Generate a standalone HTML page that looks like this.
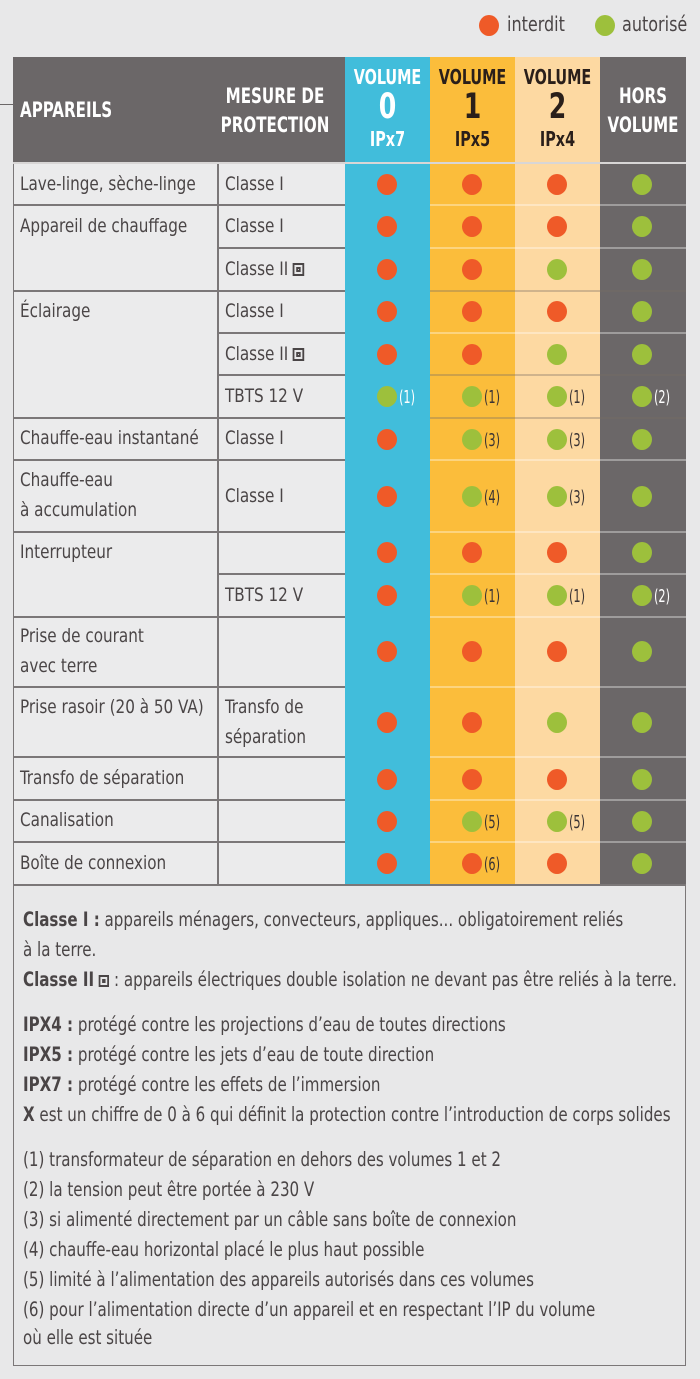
<!DOCTYPE html>
<html><head><meta charset="utf-8"><style>
*{margin:0;padding:0;box-sizing:border-box}
body{width:700px;height:1379px;background:#e8e8e9;position:relative;overflow:hidden;font-family:"Liberation Sans Narrow","DejaVu Sans Condensed","Liberation Sans",sans-serif;color:#4a4546}
.a{position:absolute}
.t{position:absolute;font-size:19px;line-height:30px;white-space:nowrap;transform-origin:0 0;transform:scaleX(.89)}
.h{position:absolute;color:#fff;font-weight:bold;font-size:20px;line-height:29px;text-align:center;transform:scaleX(.8)}
.d{position:absolute;width:20px;height:21px;border-radius:50%}
.o{background:#ef5a28}.g{background:#9dc03c}
.n{position:absolute;font-size:18px;line-height:21px;transform:scaleX(.7);transform-origin:0 0;color:#3a3334}
.ln{position:absolute;height:2px}
.f{position:absolute;left:23px;font-size:19.5px;line-height:30px;white-space:nowrap;transform-origin:0 0;transform:scaleX(.86);color:#4a4546}
.f b{color:#4a4546}
.sq{display:inline-block;width:12px;height:12px;border:2px solid #4a4546;box-shadow:inset 0 0 0 2px #e8e8e9,inset 0 0 0 4px #4a4546;vertical-align:-1px}
</style></head><body>
<div class="d o" style="left:479px;top:15px"></div><div class="t" style="left:507px;top:9px;font-size:20px">interdit</div>
<div class="d g" style="left:595px;top:15px"></div><div class="t" style="left:622px;top:9px;font-size:20px">autorisé</div>
<div class="a" style="left:13px;top:57px;width:673px;height:828px;background:#ebebec;border:1.5px solid #7b7778"></div>
<div class="a" style="left:13px;top:57px;width:332px;height:106px;background:#6b6768"></div>
<div class="a" style="left:345px;top:57px;width:85px;height:828px;background:#41bddb"></div>
<div class="a" style="left:430px;top:57px;width:85px;height:828px;background:#fbbd3b"></div>
<div class="a" style="left:515px;top:57px;width:85px;height:828px;background:#fdd9a2"></div>
<div class="a" style="left:600px;top:57px;width:86px;height:828px;background:#6b6768"></div>
<div class="a" style="left:0;top:104px;width:13px;height:1px;background:#6b6768"></div>
<div class="h" style="left:20px;top:96px;font-size:21px;text-align:left;transform-origin:0 0">APPAREILS</div>
<div class="h" style="left:205px;top:82px;width:140px;font-size:21px">MESURE DE<br>PROTECTION</div>
<div class="h" style="left:340px;top:63px;width:95px;line-height:28px">VOLUME<br><span style="font-size:35px;line-height:32px">0</span><br>IPx7</div>
<div class="h" style="left:425px;top:63px;width:95px;line-height:28px;color:#2a1f1a">VOLUME<br><span style="font-size:35px;line-height:32px">1</span><br>IPx5</div>
<div class="h" style="left:510px;top:63px;width:95px;line-height:28px;color:#2a1f1a">VOLUME<br><span style="font-size:35px;line-height:32px">2</span><br>IPx4</div>
<div class="h" style="left:595px;top:82px;width:96px;font-size:21px">HORS<br>VOLUME</div>
<div class="a" style="left:217px;top:163px;width:1.5px;height:722px;background:#7b7778"></div>
<div class="ln" style="left:13px;top:162px;width:673px;background:#d8d6d6"></div>
<div class="ln" style="left:13px;top:204px;width:332px;background:#7b7778"></div>
<div class="ln" style="left:13px;top:290px;width:332px;background:#7b7778"></div>
<div class="ln" style="left:13px;top:417px;width:332px;background:#7b7778"></div>
<div class="ln" style="left:13px;top:459px;width:332px;background:#7b7778"></div>
<div class="ln" style="left:13px;top:531px;width:332px;background:#7b7778"></div>
<div class="ln" style="left:13px;top:616px;width:332px;background:#7b7778"></div>
<div class="ln" style="left:13px;top:686px;width:332px;background:#7b7778"></div>
<div class="ln" style="left:13px;top:756px;width:332px;background:#7b7778"></div>
<div class="ln" style="left:13px;top:799px;width:332px;background:#7b7778"></div>
<div class="ln" style="left:13px;top:841px;width:332px;background:#7b7778"></div>
<div class="ln" style="left:13px;top:884px;width:673px;background:#7b7778"></div>
<div class="ln" style="left:218px;top:247px;width:127px;background:#7b7778"></div>
<div class="ln" style="left:218px;top:332px;width:127px;background:#7b7778"></div>
<div class="ln" style="left:218px;top:374px;width:127px;background:#7b7778"></div>
<div class="ln" style="left:218px;top:573px;width:127px;background:#7b7778"></div>
<div class="ln" style="left:430px;top:204px;width:256px;background:rgba(255,255,255,.35)"></div>
<div class="ln" style="left:430px;top:247px;width:256px;background:rgba(255,255,255,.35)"></div>
<div class="ln" style="left:430px;top:290px;width:256px;background:rgba(120,110,100,.35)"></div>
<div class="ln" style="left:430px;top:332px;width:256px;background:rgba(255,255,255,.35)"></div>
<div class="ln" style="left:430px;top:374px;width:256px;background:rgba(120,110,100,.35)"></div>
<div class="ln" style="left:430px;top:417px;width:256px;background:rgba(120,110,100,.35)"></div>
<div class="ln" style="left:430px;top:459px;width:256px;background:rgba(255,255,255,.35)"></div>
<div class="ln" style="left:430px;top:531px;width:256px;background:rgba(255,255,255,.35)"></div>
<div class="ln" style="left:430px;top:573px;width:256px;background:rgba(255,255,255,.35)"></div>
<div class="ln" style="left:430px;top:616px;width:256px;background:rgba(255,255,255,.35)"></div>
<div class="ln" style="left:430px;top:686px;width:256px;background:rgba(255,255,255,.35)"></div>
<div class="ln" style="left:430px;top:756px;width:256px;background:rgba(255,255,255,.35)"></div>
<div class="ln" style="left:430px;top:799px;width:256px;background:rgba(255,255,255,.35)"></div>
<div class="ln" style="left:430px;top:841px;width:256px;background:rgba(255,255,255,.35)"></div>
<div class="t" style="left:20px;top:169px">Lave-linge, sèche-linge</div>
<div class="t" style="left:20px;top:211px">Appareil de chauffage</div>
<div class="t" style="left:20px;top:296px">Éclairage</div>
<div class="t" style="left:20px;top:423px">Chauffe-eau instantané</div>
<div class="t" style="left:20px;top:465px">Chauffe-eau<br>à accumulation</div>
<div class="t" style="left:20px;top:537px">Interrupteur</div>
<div class="t" style="left:20px;top:621px">Prise de courant<br>avec terre</div>
<div class="t" style="left:20px;top:692px">Prise rasoir (20 à 50 VA)</div>
<div class="t" style="left:20px;top:763px">Transfo de séparation</div>
<div class="t" style="left:20px;top:805px">Canalisation</div>
<div class="t" style="left:20px;top:848px">Boîte de connexion</div>
<div class="t" style="left:225px;top:169px">Classe I</div>
<div class="t" style="left:225px;top:211px">Classe I</div>
<div class="t" style="left:225px;top:254px">Classe II <span class="sq" style="width:13px;height:13px"></span></div>
<div class="t" style="left:225px;top:296px">Classe I</div>
<div class="t" style="left:225px;top:339px">Classe II <span class="sq" style="width:13px;height:13px"></span></div>
<div class="t" style="left:225px;top:381px">TBTS 12 V</div>
<div class="t" style="left:225px;top:423px">Classe I</div>
<div class="t" style="left:225px;top:481px">Classe I</div>
<div class="t" style="left:225px;top:580px">TBTS 12 V</div>
<div class="t" style="left:225px;top:692px">Transfo de<br>séparation</div>
<div class="d o" style="left:377px;top:174px"></div><div class="d o" style="left:462px;top:174px"></div><div class="d o" style="left:547px;top:174px"></div><div class="d g" style="left:632px;top:174px"></div>
<div class="d o" style="left:377px;top:216px"></div><div class="d o" style="left:462px;top:216px"></div><div class="d o" style="left:547px;top:216px"></div><div class="d g" style="left:632px;top:216px"></div>
<div class="d o" style="left:377px;top:259px"></div><div class="d o" style="left:462px;top:259px"></div><div class="d g" style="left:547px;top:259px"></div><div class="d g" style="left:632px;top:259px"></div>
<div class="d o" style="left:377px;top:301px"></div><div class="d o" style="left:462px;top:301px"></div><div class="d o" style="left:547px;top:301px"></div><div class="d g" style="left:632px;top:301px"></div>
<div class="d o" style="left:377px;top:344px"></div><div class="d o" style="left:462px;top:344px"></div><div class="d g" style="left:547px;top:344px"></div><div class="d g" style="left:632px;top:344px"></div>
<div class="d g" style="left:377px;top:386px"></div><div class="n" style="left:399px;top:387px;color:#fff">(1)</div>
<div class="d g" style="left:462px;top:386px"></div><div class="n" style="left:484px;top:387px">(1)</div>
<div class="d g" style="left:547px;top:386px"></div><div class="n" style="left:569px;top:387px">(1)</div>
<div class="d g" style="left:632px;top:386px"></div><div class="n" style="left:654px;top:387px;color:#fff">(2)</div>
<div class="d o" style="left:377px;top:429px"></div>
<div class="d g" style="left:462px;top:429px"></div><div class="n" style="left:484px;top:430px">(3)</div>
<div class="d g" style="left:547px;top:429px"></div><div class="n" style="left:569px;top:430px">(3)</div>
<div class="d g" style="left:632px;top:429px"></div>
<div class="d o" style="left:377px;top:486px"></div>
<div class="d g" style="left:462px;top:486px"></div><div class="n" style="left:484px;top:487px">(4)</div>
<div class="d g" style="left:547px;top:486px"></div><div class="n" style="left:569px;top:487px">(3)</div>
<div class="d g" style="left:632px;top:486px"></div>
<div class="d o" style="left:377px;top:542px"></div><div class="d o" style="left:462px;top:542px"></div><div class="d o" style="left:547px;top:542px"></div><div class="d g" style="left:632px;top:542px"></div>
<div class="d o" style="left:377px;top:585px"></div>
<div class="d g" style="left:462px;top:585px"></div><div class="n" style="left:484px;top:586px">(1)</div>
<div class="d g" style="left:547px;top:585px"></div><div class="n" style="left:569px;top:586px">(1)</div>
<div class="d g" style="left:632px;top:585px"></div><div class="n" style="left:654px;top:586px;color:#fff">(2)</div>
<div class="d o" style="left:377px;top:641px"></div><div class="d o" style="left:462px;top:641px"></div><div class="d o" style="left:547px;top:641px"></div><div class="d g" style="left:632px;top:641px"></div>
<div class="d o" style="left:377px;top:712px"></div><div class="d o" style="left:462px;top:712px"></div><div class="d g" style="left:547px;top:712px"></div><div class="d g" style="left:632px;top:712px"></div>
<div class="d o" style="left:377px;top:769px"></div><div class="d o" style="left:462px;top:769px"></div><div class="d o" style="left:547px;top:769px"></div><div class="d g" style="left:632px;top:769px"></div>
<div class="d o" style="left:377px;top:811px"></div>
<div class="d g" style="left:462px;top:811px"></div><div class="n" style="left:484px;top:812px">(5)</div>
<div class="d g" style="left:547px;top:811px"></div><div class="n" style="left:569px;top:812px">(5)</div>
<div class="d g" style="left:632px;top:811px"></div>
<div class="d o" style="left:377px;top:853px"></div>
<div class="d o" style="left:462px;top:853px"></div><div class="n" style="left:484px;top:854px">(6)</div>
<div class="d o" style="left:547px;top:853px"></div><div class="d g" style="left:632px;top:853px"></div>
<div class="a" style="left:13px;top:885px;width:673px;height:481px;border:1.5px solid #7b7778;border-top:none"></div>
<div class="f" style="top:905px"><b>Classe I :</b> appareils ménagers, convecteurs, appliques... obligatoirement reliés</div>
<div class="f" style="top:935px">à la terre.</div>
<div class="f" style="top:965px"><b>Classe II</b> <span class="sq"></span> : appareils électriques double isolation ne devant pas être reliés à la terre.</div>
<div class="f" style="top:1010px"><b>IPX4 :</b> protégé contre les projections d’eau de toutes directions</div>
<div class="f" style="top:1040px"><b>IPX5 :</b> protégé contre les jets d’eau de toute direction</div>
<div class="f" style="top:1070px"><b>IPX7 :</b> protégé contre les effets de l’immersion</div>
<div class="f" style="top:1100px"><b>X</b> est un chiffre de 0 à 6 qui définit la protection contre l’introduction de corps solides</div>
<div class="f" style="top:1145px">(1) transformateur de séparation en dehors des volumes 1 et 2</div>
<div class="f" style="top:1175px">(2) la tension peut être portée à 230 V</div>
<div class="f" style="top:1205px">(3) si alimenté directement par un câble sans boîte de connexion</div>
<div class="f" style="top:1235px">(4) chauffe-eau horizontal placé le plus haut possible</div>
<div class="f" style="top:1265px">(5) limité à l’alimentation des appareils autorisés dans ces volumes</div>
<div class="f" style="top:1295px">(6) pour l’alimentation directe d’un appareil et en respectant l’IP du volume</div>
<div class="f" style="top:1323px">où elle est située</div>
</body></html>
